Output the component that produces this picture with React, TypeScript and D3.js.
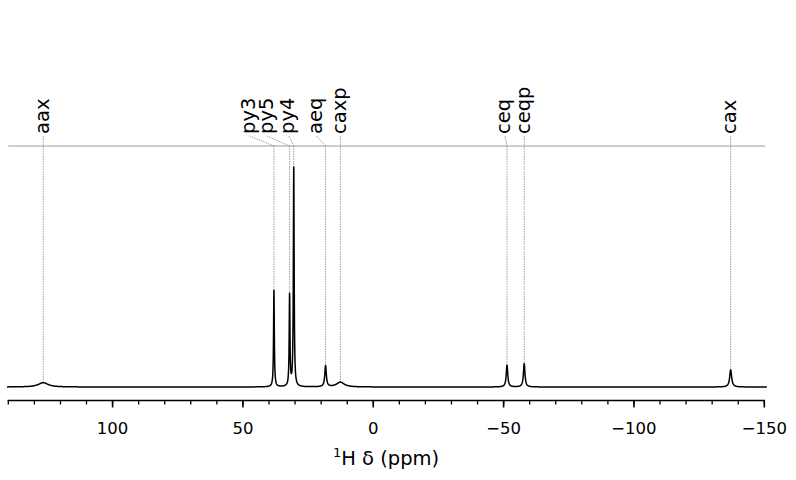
import React from "react";
import * as d3 from "d3";

// Peak list: name, position (ppm), relative height, FWHM (ppm), label position (ppm)
const peakNames = ["aax", "py3", "py5", "py4", "aeq", "caxp", "ceq", "ceqp", "cax"];
const peakShifts = [126.6, 38.1, 32.1, 30.5, 18.3, 12.6, -51.3, -57.9, -137.1];
const peakHeights = [0.018, 0.40, 0.378, 0.908, 0.087, 0.020, 0.090, 0.097, 0.071];
const peakWidths = [4.5, 0.35, 0.35, 0.35, 0.7, 3.5, 0.7, 0.7, 0.9];
const labelShifts = [126.6, 47.5, 40.7, 32.4, 21.8, 12.6, -50.5, -57.9, -137.1];

const majorTicks = [100, 50, 0, -50, -100, -150];
const minorTicks = d3.range(140, -151, -10);
const xDomain = [140, -150];

const W = 796;
const H = 480;
const FONT = "DejaVu Sans, sans-serif";

export default function App() {
  const x = d3.scaleLinear().domain(xDomain).range([8.3, 764.3]);
  const y = d3.scaleLinear().domain([0, 1]).range([387, 146]);

  const lor = (p: number) =>
    peakShifts.reduce((s, c, i) => {
      const g = peakWidths[i] / 2;
      return s + (peakHeights[i] * g * g) / ((p - c) * (p - c) + g * g);
    }, 0);

  const grid = d3.range(140.5, -151, -0.02);
  const line = d3
    .line<number>()
    .x((p) => x(p))
    .y((p) => y(lor(p)));
  const path = line(grid) || "";

  const axisY = 400.5;
  const labelBottom = 134;

  return (
    <svg
      width={W}
      height={H}
      style={{ position: "absolute", left: 0, top: 0, background: "#fff" }}
      fontFamily={FONT}
    >
      {/* reference line */}
      <line x1={x(140)} x2={765} y1={y(1)} y2={y(1)} stroke="#999" strokeWidth={1} />

      {/* annotations */}
      {peakNames.map((n, i) => {
        const px = x(peakShifts[i]);
        const lx = x(labelShifts[i]);
        const top = y(lor(peakShifts[i]));
        return (
          <g key={n}>
            <line x1={lx} y1={labelBottom + 2} x2={px} y2={y(1)} stroke="#888" strokeWidth={0.8} strokeDasharray="1.5,1" />
            <line x1={px} y1={y(1)} x2={px} y2={top} stroke="#888" strokeWidth={0.8} strokeDasharray="1.5,1" />
            <text
              transform={`translate(${lx},${labelBottom}) rotate(-90)`}
              dy="0.28em"
              fontSize={19.5}
              fill="#000"
            >
              {n}
            </text>
          </g>
        );
      })}

      {/* spectrum */}
      <path d={path} fill="none" stroke="#000" strokeWidth={1.5} strokeLinejoin="round" />

      {/* axis */}
      <line x1={x(140) - 0.75} x2={x(-150) + 0.75} y1={axisY} y2={axisY} stroke="#000" strokeWidth={1.6} />
      {minorTicks.map((t) => (
        <line key={"m" + t} x1={x(t)} x2={x(t)} y1={axisY} y2={axisY + 4} stroke="#000" strokeWidth={1.3} />
      ))}
      {majorTicks.map((t) => (
        <g key={"M" + t}>
          <line x1={x(t)} x2={x(t)} y1={axisY} y2={axisY + 7} stroke="#000" strokeWidth={1.6} />
          <text x={x(t)} y={433.5} textAnchor="middle" fontSize={16.5}>
            {t < 0 ? "\u2212" + Math.abs(t) : String(t)}
          </text>
        </g>
      ))}
      <text x={386} y={464.5} textAnchor="middle" fontSize={19.5}>
        <tspan fontSize={13} dy={-8}>1</tspan>
        <tspan dy={8}>H δ (ppm)</tspan>
      </text>
    </svg>
  );
}
